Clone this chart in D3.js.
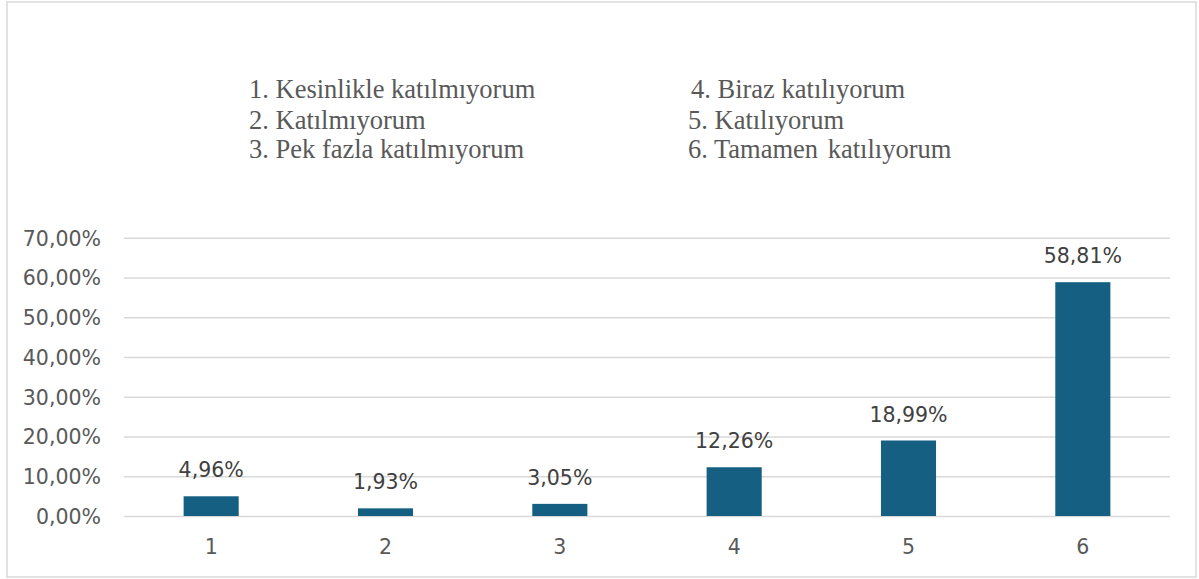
<!DOCTYPE html>
<html>
<head>
<meta charset="utf-8">
<script src="https://cdn.jsdelivr.net/npm/d3@7"></script>
<style>
  html, body { margin: 0; padding: 0; background: #fff; }
  svg { display: block; }
</style>
</head>
<body>
<svg id="chart" width="1199" height="579"></svg>
<script>
// ─── Data ────────────────────────────────────────────────────────────────────

const categories = ['1', '2', '3', '4', '5', '6'];
const values     = [4.96, 1.93, 3.05, 12.26, 18.99, 58.81];
const yTicks     = [0, 10, 20, 30, 40, 50, 60, 70];

const legendLeft  = ['1. Kesinlikle katılmıyorum', '2. Katılmıyorum', '3. Pek fazla katılmıyorum'];
const legendRight = ['4. Biraz katılıyorum', '5. Katılıyorum', '6. Tamamen katılıyorum'];

// ─── Setup ───────────────────────────────────────────────────────────────────

const plot = { left: 124, right: 1170, top: 237.7, bottom: 516 };

const svg = d3.select('#chart');
const fmt = v => v.toFixed(2).replace('.', ',') + '%';
const sans = '"DejaVu Sans", sans-serif';
const textColor = '#595959';
const fontSize = '20.5px';

// frame
svg.append('rect')
  .attr('x', 7).attr('y', 2)
  .attr('width', 1189).attr('height', 575)
  .attr('fill', '#fff')
  .attr('stroke', '#d9d9d9')
  .attr('stroke-width', 1.5);

// ─── Scales ──────────────────────────────────────────────────────────────────

const x = d3.scaleBand()
  .domain(categories)
  .range([plot.left, plot.right])
  .paddingInner(0.684)
  .paddingOuter(0.342);

const y = d3.scaleLinear()
  .domain([0, 70])
  .range([plot.bottom, plot.top]);

// ─── Grid + y axis ───────────────────────────────────────────────────────────

const yAxis = d3.axisLeft(y)
  .tickValues(yTicks)
  .tickSize(-(plot.right - plot.left))
  .tickPadding(23)
  .tickFormat(fmt);

const gy = svg.append('g')
  .attr('transform', `translate(${plot.left},0)`)
  .call(yAxis);

gy.select('.domain').remove();
gy.selectAll('.tick line')
  .attr('stroke', '#d9d9d9')
  .attr('stroke-width', 1.5);
gy.selectAll('.tick text')
  .attr('fill', textColor)
  .attr('dy', '0.36em')
  .style('font-family', sans)
  .style('font-size', fontSize);

// ─── Bars ────────────────────────────────────────────────────────────────────

svg.append('g')
  .selectAll('rect')
  .data(values)
  .join('rect')
  .attr('x', (d, i) => x(categories[i]))
  .attr('y', d => y(d))
  .attr('width', x.bandwidth())
  .attr('height', d => y(0) - y(d))
  .attr('fill', '#156082');

// data labels
svg.append('g')
  .selectAll('text')
  .data(values)
  .join('text')
  .attr('x', (d, i) => x(categories[i]) + x.bandwidth() / 2)
  .attr('y', d => y(d) - 19)
  .attr('text-anchor', 'middle')
  .attr('fill', '#404040')
  .style('font-family', sans)
  .style('font-size', fontSize)
  .text(fmt);

// ─── X axis ──────────────────────────────────────────────────────────────────

const xAxis = d3.axisBottom(x).tickSize(0).tickPadding(0);

const gx = svg.append('g')
  .attr('transform', `translate(0,${plot.bottom})`)
  .call(xAxis);

gx.select('.domain').remove();
gx.selectAll('.tick text')
  .attr('y', 38)
  .attr('dy', 0)
  .attr('fill', textColor)
  .style('font-family', sans)
  .style('font-size', fontSize);

// ─── Legend text ─────────────────────────────────────────────────────────────

const serif = '"Liberation Serif", "Times New Roman", serif';
const rows = [97.5, 129, 158];

svg.append('g')
  .selectAll('text')
  .data(legendLeft)
  .join('text')
  .attr('x', 249)
  .attr('y', (d, i) => rows[i])
  .attr('fill', '#595959')
  .style('font-family', serif)
  .style('font-size', '26.5px')
  .text(d => d);

const right = svg.append('g')
  .selectAll('text')
  .data(legendRight)
  .join('text')
  .attr('x', (d, i) => [691, 688, 688][i])
  .attr('y', (d, i) => rows[i])
  .attr('fill', '#595959')
  .style('font-family', serif)
  .style('font-size', '26.5px');

// last item has a slightly wider gap before its final word
right.each(function(d, i) {
  const t = d3.select(this);
  if (i === 2) {
    const cut = d.lastIndexOf(' ');
    t.append('tspan').text(d.slice(0, cut + 1));
    t.append('tspan').attr('dx', 3).text(d.slice(cut + 1));
  } else {
    t.text(d);
  }
});
</script>
</body>
</html>
